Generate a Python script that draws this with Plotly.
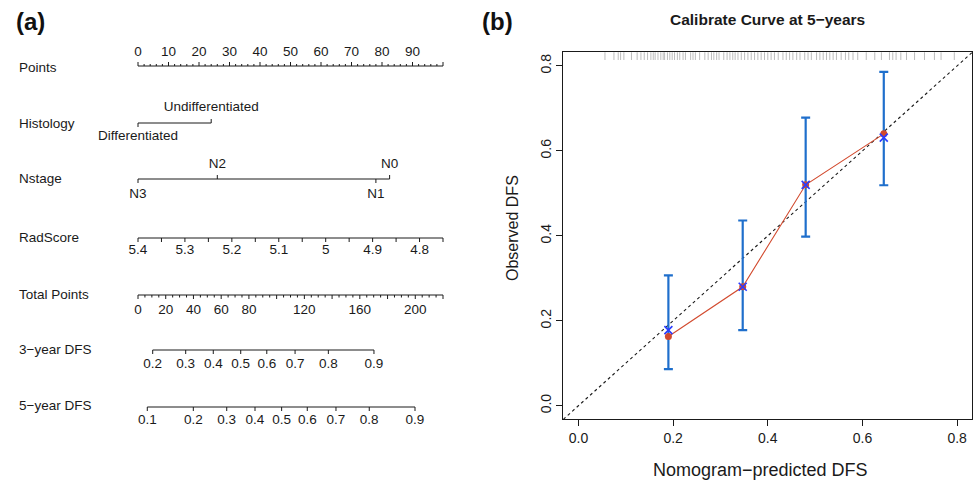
import plotly.graph_objects as go

# ---------------- data: nomogram (panel a) ----------------
POINTS_MAJOR = [0, 10, 20, 30, 40, 50, 60, 70, 80, 90, 100]
POINTS_LABELS = ["0", "10", "20", "30", "40", "50", "60", "70", "80", "90", ""]
POINTS_MINOR_STEP = 2

HISTOLOGY_LEVELS = ["Differentiated", "Undifferentiated"]
HISTOLOGY_POINTS = [0, 24]

NSTAGE_LEVELS = ["N3", "N2", "N1", "N0"]
NSTAGE_POINTS = [0, 26, 78, 82.5]

RADSCORE_TICKS = [5.4, 5.35, 5.3, 5.25, 5.2, 5.15, 5.1, 5.05, 5.0, 4.95, 4.9, 4.85, 4.8, 4.75]
RADSCORE_LABELS = [5.4, 5.3, 5.2, 5.1, 5.0, 4.9, 4.8]
RADSCORE_LABEL_TEXT = ["5.4", "5.3", "5.2", "5.1", "5", "4.9", "4.8"]
RADSCORE_MAX_POINTS_AT = 4.75  # value receiving 100 points

TOTAL_MAX = 220
TOTAL_LABELS = [0, 20, 40, 60, 80, 120, 160, 200]
TOTAL_MINOR_STEP = 5
TOTAL_MAJOR_STEP = 20

DFS3_PROBS = ["0.2", "0.3", "0.4", "0.5", "0.6", "0.7", "0.8", "0.9"]
DFS3_TOTAL = [10.6, 34.4, 54.3, 74.1, 92.9, 113.3, 137.3, 170.2]
DFS5_PROBS = ["0.1", "0.2", "0.3", "0.4", "0.5", "0.6", "0.7", "0.8", "0.9"]
DFS5_TOTAL = [6.7, 39.9, 64.0, 84.4, 103.6, 122.1, 142.8, 166.8, 199.8]

# ---------------- data: calibration (panel b) ----------------
PRED = [0.190, 0.347, 0.480, 0.645]
OBS_APPARENT = [0.163, 0.280, 0.520, 0.640]
OBS_CORRECTED = [0.178, 0.280, 0.520, 0.631]
CI_LOW = [0.086, 0.178, 0.398, 0.519]
CI_HIGH = [0.307, 0.436, 0.678, 0.786]
RUG = [0.056, 0.075, 0.084, 0.089, 0.096, 0.112, 0.124, 0.132, 0.139, 0.146,
       0.153, 0.158, 0.162, 0.168, 0.174, 0.179, 0.182, 0.188, 0.193, 0.198,
       0.203, 0.209, 0.214, 0.221, 0.226, 0.237, 0.242, 0.247, 0.256, 0.267,
       0.274, 0.281, 0.286, 0.292, 0.297, 0.307, 0.314, 0.320, 0.326, 0.331,
       0.337, 0.344, 0.351, 0.358, 0.365, 0.372, 0.379, 0.386, 0.393, 0.400,
       0.407, 0.414, 0.422, 0.432, 0.439, 0.446, 0.453, 0.461, 0.468, 0.478,
       0.485, 0.492, 0.503, 0.510, 0.517, 0.524, 0.531, 0.538, 0.545, 0.555,
       0.564, 0.571, 0.580, 0.590, 0.608, 0.626, 0.640, 0.657, 0.664, 0.671,
       0.681, 0.693, 0.710, 0.731, 0.752, 0.766, 0.794]
CAL_TICKS = [0.0, 0.2, 0.4, 0.6, 0.8]
CAL_LIM = [0.0, 0.8]

# ---------------- style / layout constants ----------------
W, H = 974, 482
FONT = "Liberation Sans, Arial, Helvetica, sans-serif"
INK = "#1a1a1a"
FS_A = 13.5
PX0, PX100 = 138, 443           # pixel positions of 0 and 100 points
A_DOMAIN_RIGHT = 0.48
scale = (PX100 - PX0) / 100.0
A_RANGE = [-PX0 / scale, (A_DOMAIN_RIGHT * W - PX0) / scale]

ROW_Y = {"Points": 66, "Histology": 123, "Nstage": 179, "RadScore": 238,
         "Total Points": 295, "3\u2212year DFS": 350, "5\u2212year DFS": 407}
ROW_LABEL_Y = {"Points": 67, "Histology": 123, "Nstage": 178, "RadScore": 237,
               "Total Points": 294, "3\u2212year DFS": 349, "5\u2212year DFS": 405}

fig = go.Figure()


def seg_trace(xs, ys):
    fig.add_trace(go.Scatter(x=xs, y=ys, mode="lines", xaxis="x", yaxis="y",
                             line=dict(color=INK, width=1), hoverinfo="skip",
                             showlegend=False))


def text_trace(xs, ys, texts, size=FS_A):
    fig.add_trace(go.Scatter(x=xs, y=ys, mode="text", text=texts, xaxis="x", yaxis="y",
                             textposition="middle center",
                             textfont=dict(family=FONT, size=size, color=INK),
                             hoverinfo="skip", showlegend=False))


def continuous_row(y0, major, major_len, minor, minor_len, direction,
                   label_pos, labels, label_dy):
    lo, hi = min(major + minor), max(major + minor)
    xs, ys = [lo, hi, None], [y0, y0, None]
    for t in major:
        xs += [t, t, None]
        ys += [y0, y0 + direction * major_len, None]
    for t in minor:
        xs += [t, t, None]
        ys += [y0, y0 + direction * minor_len, None]
    seg_trace(xs, ys)
    text_trace(label_pos, [y0 + label_dy] * len(label_pos), labels)


def categorical_row(y0, pts, levels, tick_len, dy_up, dy_down):
    xs, ys = [min(pts), max(pts), None], [y0, y0, None]
    lx, ly = [], []
    for i, p in enumerate(pts):
        d = 1 if i % 2 == 0 else -1   # first level below, next above, ...
        xs += [p, p, None]
        ys += [y0, y0 + d * tick_len, None]
        lx.append(p)
        ly.append(y0 + (dy_down if d == 1 else dy_up))
    seg_trace(xs, ys)
    text_trace(lx, ly, levels)


# Points row (labels above, ticks up)
pts_minor = [v for v in range(0, 101, POINTS_MINOR_STEP) if v not in POINTS_MAJOR]
continuous_row(ROW_Y["Points"], POINTS_MAJOR, 4, pts_minor, 2, -1,
               POINTS_MAJOR[:-1], POINTS_LABELS[:-1], -13)

# Histology / Nstage
categorical_row(ROW_Y["Histology"], HISTOLOGY_POINTS, HISTOLOGY_LEVELS, 4, -15, 14)
categorical_row(ROW_Y["Nstage"], NSTAGE_POINTS, NSTAGE_LEVELS, 4, -14, 16)

# RadScore
def rad_to_points(v):
    return (RADSCORE_TICKS[0] - v) / (RADSCORE_TICKS[0] - RADSCORE_MAX_POINTS_AT) * 100.0

continuous_row(ROW_Y["RadScore"], [rad_to_points(v) for v in RADSCORE_TICKS], 4, [], 0, 1,
               [rad_to_points(v) for v in RADSCORE_LABELS], RADSCORE_LABEL_TEXT, 12.5)

# Total points
def total_to_points(v):
    return v * 100.0 / TOTAL_MAX

tot_major = list(range(0, TOTAL_MAX + 1, TOTAL_MAJOR_STEP))
tot_minor = [v for v in range(0, TOTAL_MAX + 1, TOTAL_MINOR_STEP) if v not in tot_major]
continuous_row(ROW_Y["Total Points"], [total_to_points(v) for v in tot_major], 4,
               [total_to_points(v) for v in tot_minor], 2.5, 1,
               [total_to_points(v) for v in TOTAL_LABELS], [str(v) for v in TOTAL_LABELS], 16)

# DFS rows
continuous_row(ROW_Y["3\u2212year DFS"], [total_to_points(v) for v in DFS3_TOTAL], 4, [], 0, 1,
               [total_to_points(v) for v in DFS3_TOTAL], DFS3_PROBS, 15)
continuous_row(ROW_Y["5\u2212year DFS"], [total_to_points(v) for v in DFS5_TOTAL], 4, [], 0, 1,
               [total_to_points(v) for v in DFS5_TOTAL], DFS5_PROBS, 14)

annotations = []
for name, yv in ROW_LABEL_Y.items():
    annotations.append(dict(x=17 / W, xref="paper", y=yv, yref="y", text=name,
                            showarrow=False, xanchor="left", yanchor="middle",
                            font=dict(family=FONT, size=FS_A, color=INK)))

# ---------------- panel b ----------------
pad = 0.04 * (CAL_LIM[1] - CAL_LIM[0])
B_RANGE = [CAL_LIM[0] - pad, CAL_LIM[1] + pad]

fig.add_trace(go.Scatter(x=B_RANGE, y=B_RANGE, mode="lines", xaxis="x2", yaxis="y2",
                         line=dict(color=INK, width=1.1, dash="3px,3px"),
                         hoverinfo="skip", showlegend=False))

rug_y = B_RANGE[1] - 3.5 / 426.0
fig.add_trace(go.Scatter(x=RUG, y=[rug_y] * len(RUG), mode="markers", xaxis="x2", yaxis="y2",
                         marker=dict(symbol="line-ns", size=6,
                                     line=dict(color="#bdbdbd", width=1)),
                         hoverinfo="skip", showlegend=False))

BLUE_BAR = "#1f6fcc"
fig.add_trace(go.Scatter(x=PRED, y=OBS_CORRECTED, mode="markers", xaxis="x2", yaxis="y2",
                         marker=dict(size=1, color="rgba(0,0,0,0)"),
                         error_y=dict(type="data", symmetric=False,
                                      array=[h - o for h, o in zip(CI_HIGH, OBS_CORRECTED)],
                                      arrayminus=[o - l for o, l in zip(OBS_CORRECTED, CI_LOW)],
                                      color=BLUE_BAR, thickness=2.2, width=4.5),
                         hoverinfo="skip", showlegend=False))

RED = "#d24a2e"
fig.add_trace(go.Scatter(x=PRED, y=OBS_APPARENT, mode="lines+markers", xaxis="x2", yaxis="y2",
                         line=dict(color=RED, width=1.1),
                         marker=dict(symbol="circle", size=7, color=RED),
                         hoverinfo="skip", showlegend=False))

fig.add_trace(go.Scatter(x=PRED, y=OBS_CORRECTED, mode="markers", xaxis="x2", yaxis="y2",
                         marker=dict(symbol="x-thin", size=8,
                                     line=dict(color="#2a3cff", width=1.6)),
                         hoverinfo="skip", showlegend=False))

annotations += [
    dict(x=30 / W, y=1 - 22 / H, xref="paper", yref="paper", text="<b>(a)</b>", showarrow=False,
         font=dict(family=FONT, size=24, color="#111111"), xanchor="center", yanchor="middle"),
    dict(x=497 / W, y=1 - 22 / H, xref="paper", yref="paper", text="<b>(b)</b>", showarrow=False,
         font=dict(family=FONT, size=24, color="#111111"), xanchor="center", yanchor="middle"),
    dict(x=767 / W, y=1 - 20 / H, xref="paper", yref="paper",
         text="<b>Calibrate Curve at 5\u2212years</b>", showarrow=False,
         font=dict(family=FONT, size=15.5, color=INK), xanchor="center", yanchor="middle"),
    dict(x=760 / W, y=1 - 470 / H, xref="paper", yref="paper",
         text="Nomogram\u2212predicted DFS", showarrow=False,
         font=dict(family=FONT, size=18, color=INK), xanchor="center", yanchor="middle"),
    dict(x=512 / W, y=1 - 228 / H, xref="paper", yref="paper",
         text="Observed DFS", showarrow=False, textangle=-90,
         font=dict(family=FONT, size=16, color=INK), xanchor="center", yanchor="middle"),
]

b_axis_common = dict(range=B_RANGE, showgrid=False, zeroline=False, showline=True, mirror=True,
                     linecolor=INK, linewidth=1, ticks="outside", ticklen=6, tickwidth=1,
                     tickcolor=INK, tickvals=CAL_TICKS, tickformat=".1f",
                     tickfont=dict(family=FONT, size=14, color=INK))

fig.update_layout(
    width=W, height=H, margin=dict(l=0, r=0, t=0, b=0),
    paper_bgcolor="white", plot_bgcolor="white", showlegend=False,
    xaxis=dict(domain=[0, A_DOMAIN_RIGHT], range=A_RANGE, visible=False, fixedrange=True),
    yaxis=dict(domain=[0, 1], range=[H, 0], visible=False, fixedrange=True),
    xaxis2=dict(domain=[563.3 / W, 972.3 / W], anchor="y2", **b_axis_common),
    yaxis2=dict(domain=[1 - 419.3 / H, 1 - 52.3 / H], anchor="x2", tickangle=-90,
                **b_axis_common),
    annotations=annotations,
)

fig.write_html("out.html", config={"displayModeBar": False, "staticPlot": True},
               post_script="document.body.style.margin='0';document.body.style.overflow='hidden';")
